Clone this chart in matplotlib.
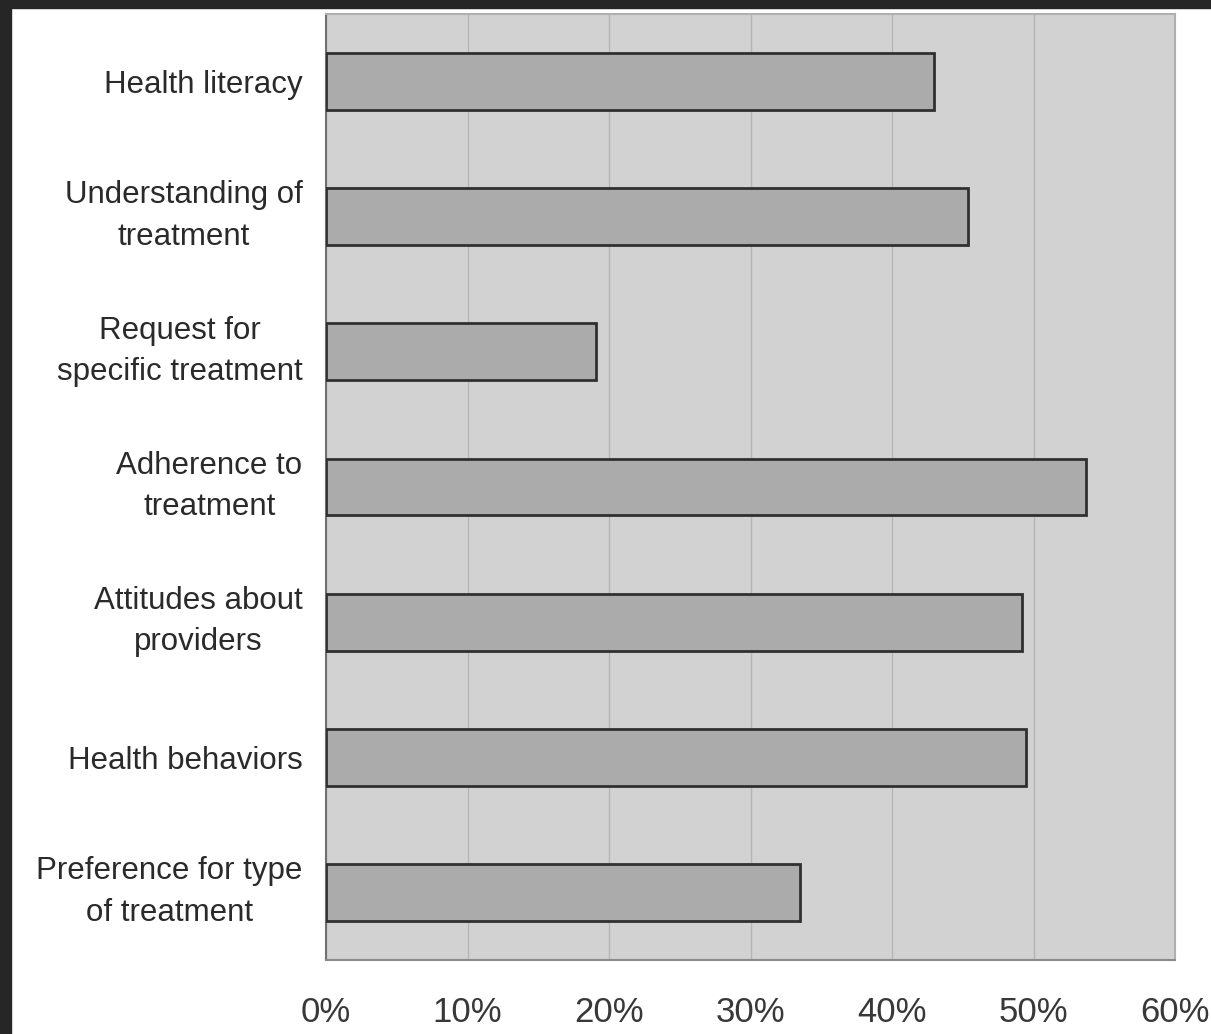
import matplotlib.pyplot as plt
from matplotlib.patches import Rectangle
from matplotlib.transforms import ScaledTranslation
import numpy as np

categories = ['Health literacy', 'Understanding of\ntreatment', 'Request for\nspecific treatment',
              'Adherence to\ntreatment', 'Attitudes about\nproviders', 'Health behaviors',
              'Preference for type\nof treatment']
values = [43.0, 45.4, 19.1, 53.7, 49.2, 49.5, 33.5]
xticks = [0, 10, 20, 30, 40, 50, 60]
xtick_labels = ['0%', '10%', '20%', '30%', '40%', '50%', '60%']

plt.rcParams['font.family'] = ['Liberation Sans', 'DejaVu Sans']

fig = plt.figure(figsize=(12.11, 10.34), dpi=100, facecolor='white')

# dark scan border on the left and top
fig.patches.append(Rectangle((0, 0), 11 / 1211, 1, transform=fig.transFigure, color='#262626', zorder=0))
fig.patches.append(Rectangle((0, 1 - 8 / 1034), 1, 8 / 1034, transform=fig.transFigure, color='#262626', zorder=0))

ax = fig.add_axes([326 / 1211, 1 - 960 / 1034, (1175 - 326) / 1211, (960 - 14) / 1034])
ax.set_facecolor('#d2d2d2')

y = np.arange(len(categories))
ax.barh(y, values, height=0.42, color='#ababab', edgecolor='#303030', linewidth=2, zorder=3)

ax.set_xlim(0, 60)
ax.set_ylim(6.5, -0.5)
ax.set_xticks(xticks)
ax.set_xticklabels(xtick_labels, fontsize=25, color='#383838')
ax.set_yticks(y)
ax.set_yticklabels(categories, fontsize=22.5, color='#2a2a2a', multialignment='center', linespacing=1.5)
ax.tick_params(axis='both', length=0)
ax.tick_params(axis='x', pad=26)
ax.tick_params(axis='y', pad=17)

# two-line labels sit a little high in the original
for lab in ax.get_yticklabels():
    if '\n' in lab.get_text():
        lab.set_transform(lab.get_transform() + ScaledTranslation(0, 7 / 72, fig.dpi_scale_trans))

ax.xaxis.grid(True, color='#b5b5b5', linewidth=1)
ax.set_axisbelow(True)

ax.spines['left'].set_color('#707070')
ax.spines['bottom'].set_color('#8a8a8a')
ax.spines['top'].set_color('#b0b0b0')
ax.spines['right'].set_color('#b0b0b0')
for s in ax.spines.values():
    s.set_linewidth(1.5)

fig.savefig('out.png', dpi=100, facecolor=fig.get_facecolor())
